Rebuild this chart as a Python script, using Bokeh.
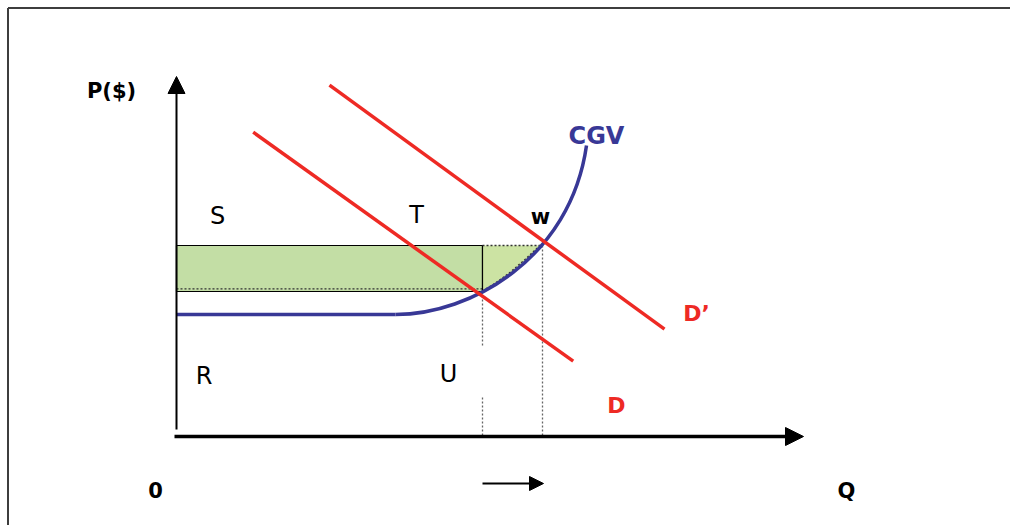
from bokeh.plotting import figure
from bokeh.models import Range1d, Arrow, NormalHead
from bokeh.core.properties import value
from bokeh.embed import file_html
from bokeh.resources import INLINE

# ---- data (Q, P units) ----
# demand curves (two end points each)
d_q = [7.67, 39.67]
d_p = [30.43, 7.53]
d2_q = [15.3, 48.8]
d2_p = [35.13, 10.73]
# CGV curve: flat part then a cubic curve
cgv_flat_q = [0.0, 21.9]
cgv_flat_p = [12.2, 12.2]
cgv_bez_q = [21.9, 29.4, 39.4, 41.0]   # start, ctrl1, ctrl2, end
cgv_bez_p = [12.2, 12.2, 17.8, 29.1]
# equilibrium quantities / prices
q1, p1 = 30.6, 14.5
q2, p2 = 36.6, 19.1
# triangle boundary along CGV, from (q1,p1) to (q2,p2)
tri_curve_q = [30.6, 31.9, 33.4, 34.9, 36.5]
tri_curve_p = [14.4, 15.2, 16.3, 17.6, 19.1]
# axis extents
q_axis_end = 62.7
p_axis_end = 36.0

# labels
lab_plain = ["S", "T", "R", "U"]
lab_plain_q = [4.1, 24.0, 2.75, 27.2]
lab_plain_p = [22.1, 22.2, 6.1, 6.3]
lab_black = ["w", "P($)", "0", "Q"]
lab_black_q = [36.4, -6.5, -2.1, 67.0]
lab_black_p = [22.0, 34.6, -5.3, -5.4]
lab_red = ["D\u2019", "D"]
lab_red_q = [52.0, 44.0]
lab_red_p = [12.3, 3.1]

RED = "#ee2a24"
BLUE = "#383896"
GREEN = "#c3dea5"
GREEN2 = "#cce3a3"
FONT = value("DejaVu Sans")

p = figure(width=1010, height=525, x_range=Range1d(-17.6, 83.4), y_range=Range1d(-8.9, 43.6),
           x_axis_type=None, y_axis_type=None, toolbar_location=None,
           output_backend="svg", min_border=0, outline_line_color=None)
p.grid.grid_line_color = None
p.background_fill_color = "white"
p.border_fill_color = "white"

# frame (top and left)
p.line([-16.85, 83.4], [42.85, 42.85], line_color="#3d3d3d", line_width=2)
p.line([-16.85, -16.85], [-8.9, 42.85], line_color="#3d3d3d", line_width=2)

# green areas
p.quad(left=[0], right=[q1], bottom=[p1], top=[p2], fill_color=GREEN, line_color="black", line_width=1.2)
tri_q = [q1, q2] + tri_curve_q[::-1]
tri_p = [p2, p2] + tri_curve_p[::-1]
p.patch(tri_q, tri_p, fill_color=GREEN2, line_color=None)
# dotted edges
p.line([0, q1], [p1 + 0.27, p1 + 0.27], line_color="#333333", line_width=1.3, line_dash="2 2")
p.line([q1, q2], [p2, p2], line_color="#333333", line_width=1.3, line_dash="2 2")
p.line(tri_curve_q, [v + 0.15 for v in tri_curve_p], line_color="#333333", line_width=1.3, line_dash="2 2")
p.line([q1, q1], [p2, p1], line_color="black", line_width=1.2)
# vertical dotted guides
p.line([q1, q1], [p1, 9.1], line_color="#666666", line_width=1.3, line_dash="2 2")
p.line([q1, q1], [3.9, 0], line_color="#666666", line_width=1.3, line_dash="2 2")
p.line([q2, q2], [p2, 0], line_color="#666666", line_width=1.3, line_dash="2 2")

# CGV
p.line(cgv_flat_q, cgv_flat_p, line_color=BLUE, line_width=3.5)
p.bezier(x0=[cgv_bez_q[0]], y0=[cgv_bez_p[0]], cx0=[cgv_bez_q[1]], cy0=[cgv_bez_p[1]],
         cx1=[cgv_bez_q[2]], cy1=[cgv_bez_p[2]], x1=[cgv_bez_q[3]], y1=[cgv_bez_p[3]],
         line_color=BLUE, line_width=3.5)

# demand lines
p.line(d_q, d_p, line_color=RED, line_width=3.5)
p.line(d2_q, d2_p, line_color=RED, line_width=3.5)

# axes
p.add_layout(Arrow(end=NormalHead(size=18, fill_color="black", line_color="black"),
                   x_start=-0.2, y_start=0, x_end=q_axis_end, y_end=0,
                   line_color="black", line_width=3.5))
p.add_layout(Arrow(end=NormalHead(size=17, fill_color="black", line_color="black"),
                   x_start=0, y_start=0.7, x_end=0, y_end=p_axis_end,
                   line_color="black", line_width=2))
# shift arrow
p.add_layout(Arrow(end=NormalHead(size=14, fill_color="black", line_color="black"),
                   x_start=q1, y_start=-4.7, x_end=q2 + 0.1, y_end=-4.7,
                   line_color="black", line_width=2))

# labels
p.text(lab_plain_q, lab_plain_p, text=lab_plain, text_font=FONT, text_font_size="24px",
       text_color="black", text_align="center", text_baseline="middle")
p.text(lab_black_q, lab_black_p, text=lab_black, text_font=FONT, text_font_size="21px",
       text_font_style="bold", text_color="black", text_align="center", text_baseline="middle")
p.text(lab_red_q, lab_red_p, text=lab_red, text_font=FONT, text_font_size="22px",
       text_font_style="bold", text_color=RED, text_align="center", text_baseline="middle")
p.text([42.0], [30.1], text=["CGV"], text_font=FONT, text_font_size="24px",
       text_font_style="bold", text_color=BLUE, text_align="center", text_baseline="middle")

open("out.html", "w").write(file_html(p, INLINE))
